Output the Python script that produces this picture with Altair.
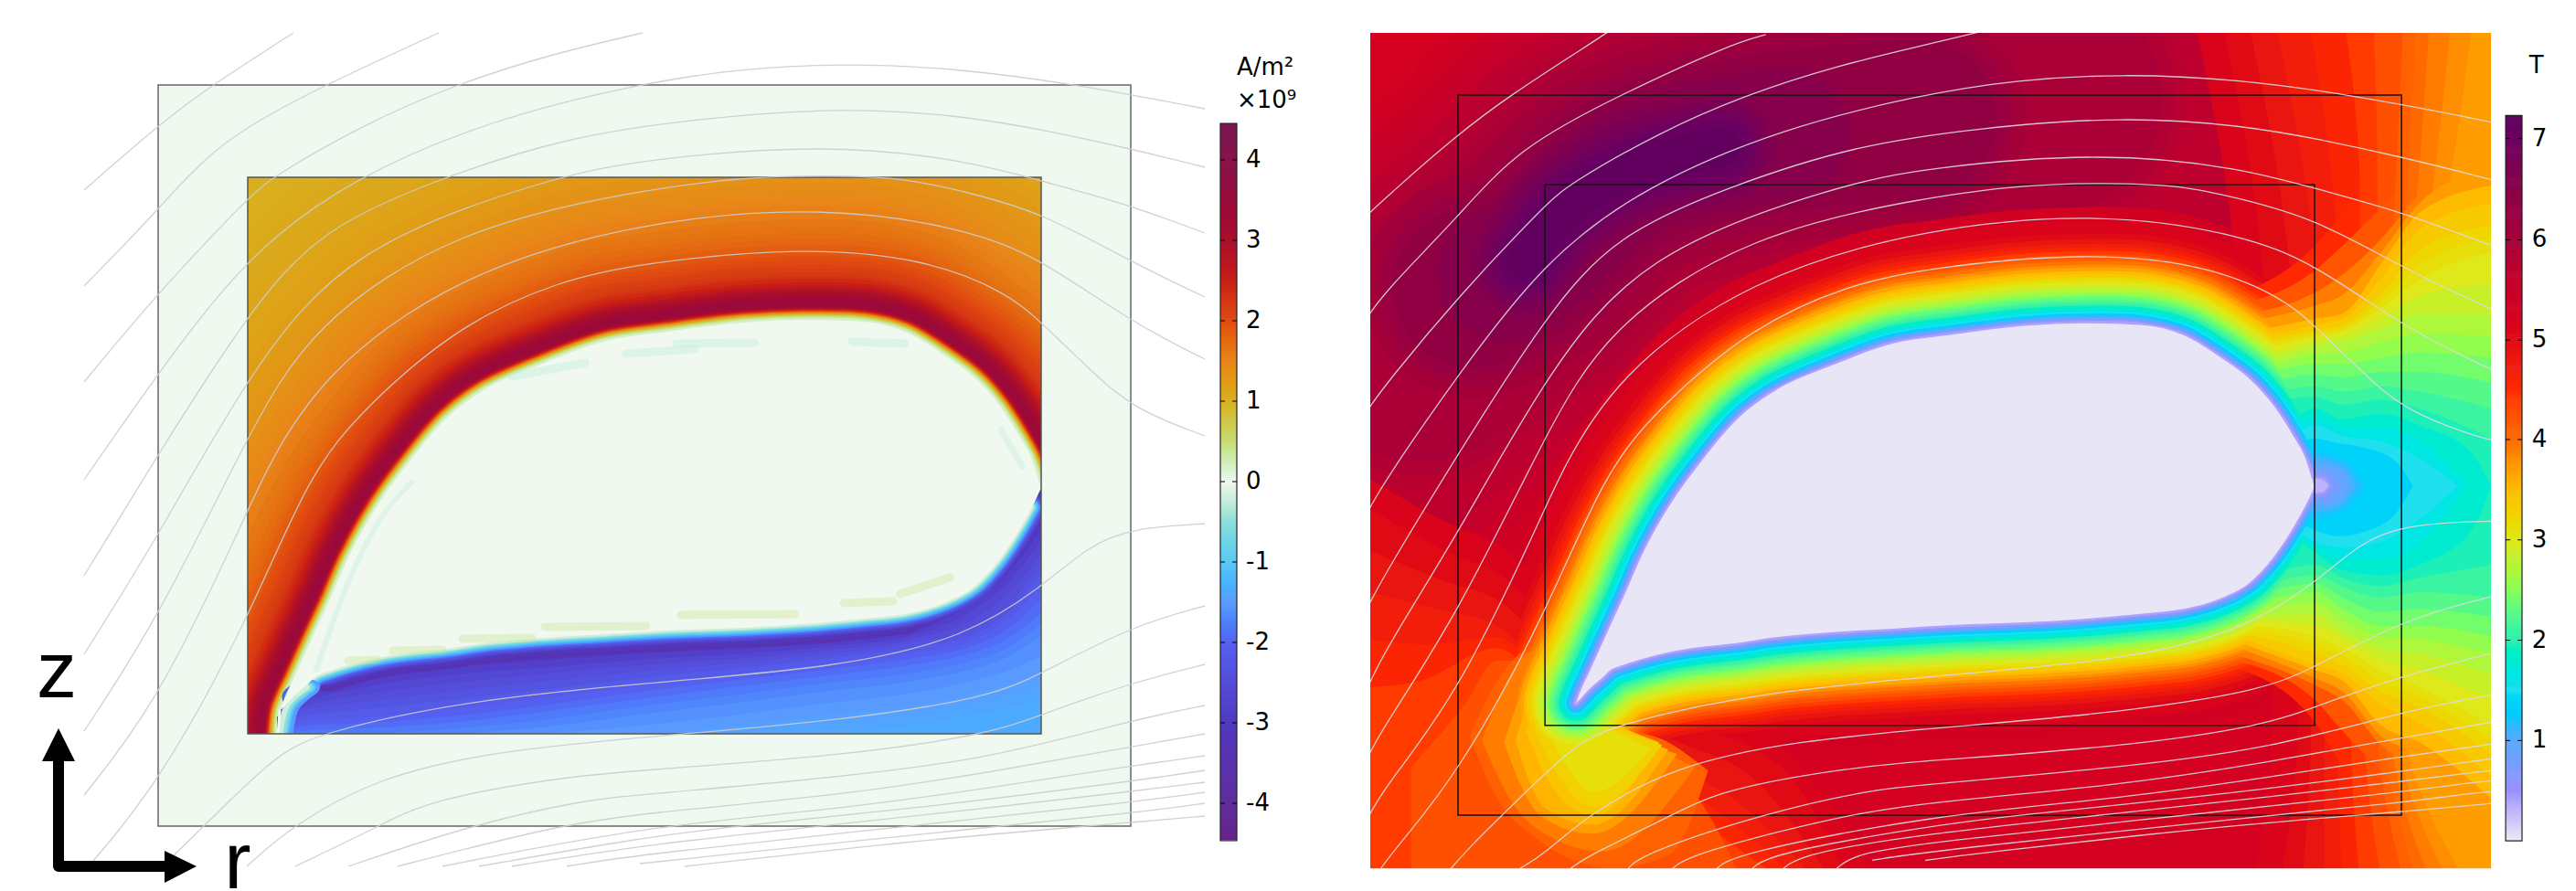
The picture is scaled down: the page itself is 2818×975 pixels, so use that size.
import altair as alt
import pandas as pd

# ---- shared geometry (r, z) ----
blob_r = [306, 312, 320, 335, 346, 359, 381, 413, 444, 489, 529, 596, 663, 730, 812, 879, 945, 990, 1035, 1066, 1093, 1115, 1129, 1138]
blob_top = [778, 762, 745, 712, 688, 660, 610, 553, 510, 457, 427, 397, 373, 363, 353, 350, 352, 363, 390, 413, 443, 477, 503, 532]
blob_bot = [778, 772, 763, 750, 740, 735, 728, 720, 715, 710, 704, 698, 694, 690, 687, 683, 677, 672, 659, 642, 613, 580, 555, 536]

outer_box = (173, 1237, 93, 904)
inner_box = (271, 1139, 194, 803)

streamlines = [
    ([73, 92, 173, 232, 321, 345], [226, 208, 137, 93, 36, 20]),
    ([73, 92, 173, 240, 355, 480, 520], [340, 313, 230, 153, 93, 36, 25]),
    ([73, 92, 173, 271, 297, 400, 497, 600, 703, 760], [445, 418, 320, 217, 194, 135, 93, 60, 36, 22]),
    ([73, 92, 173, 271, 386, 540, 694, 800, 923, 1050, 1182, 1318, 1345], [559, 525, 408, 278, 194, 130, 93, 76, 69, 75, 93, 119, 125]),
    ([73, 92, 173, 271, 350, 484, 620, 760, 923, 1057, 1146, 1238, 1318, 1345], [666, 630, 497, 343, 250, 194, 150, 130, 117, 127, 143, 163, 183, 190]),
    ([73, 92, 173, 271, 380, 605, 700, 901, 1057, 1146, 1238, 1318, 1345], [756, 716, 587, 410, 270, 194, 175, 157, 175, 200, 225, 255, 265]),
    ([73, 92, 173, 271, 340, 500, 700, 812, 901, 986, 1057, 1139, 1238, 1318, 1345], [835, 800, 677, 477, 355, 250, 208, 194, 192, 194, 210, 232, 287, 325, 337]),
    ([73, 92, 173, 271, 288, 350, 500, 700, 901, 1057, 1139, 1238, 1318, 1345], [904, 870, 768, 560, 520, 410, 300, 242, 225, 250, 283, 353, 393, 405]),
    ([86, 102, 173, 271, 337, 399, 506, 613, 700, 879, 1012, 1102, 1139, 1191, 1238, 1318, 1345], [964, 942, 858, 680, 520, 445, 353, 307, 288, 270, 283, 320, 353, 403, 447, 477, 483]),
    ([165, 190, 223, 301, 346, 506, 700, 923, 1057, 1139, 1191, 1238, 1318, 1345], [964, 936, 904, 827, 803, 767, 748, 730, 697, 643, 597, 578, 573, 573]),
    ([243, 270, 319, 413, 551, 749, 923, 1084, 1139, 1238, 1318, 1345], [964, 948, 904, 850, 820, 803, 788, 763, 737, 685, 663, 656]),
    ([300, 323, 415, 470, 618, 700, 923, 1084, 1139, 1238, 1318, 1345], [964, 948, 904, 875, 850, 843, 827, 803, 782, 747, 727, 720]),
    ([365, 381, 511, 640, 700, 923, 1084, 1238, 1318, 1345], [964, 948, 904, 875, 870, 850, 830, 788, 772, 768]),
    ([415, 435, 607, 700, 923, 1084, 1238, 1318, 1345], [964, 948, 904, 890, 870, 845, 817, 803, 798]),
    ([465, 484, 707, 923, 1084, 1238, 1318, 1345], [964, 948, 904, 885, 862, 838, 827, 823]),
    ([505, 524, 700, 803, 1000, 1238, 1318, 1345], [964, 948, 917, 904, 885, 855, 843, 840]),
    ([540, 560, 700, 899, 1100, 1238, 1318, 1345], [964, 948, 925, 904, 882, 866, 856, 853]),
    ([600, 620, 700, 995, 1238, 1318, 1345], [964, 948, 935, 904, 878, 867, 865]),
    ([640, 700, 1091, 1238, 1318, 1345], [955, 945, 904, 890, 879, 877]),
    ([700, 749, 1000, 1189, 1238, 1318, 1345], [955, 948, 920, 904, 900, 893, 890]),
]

# ---- left panel values (current density) ----
j_stops = [-4.45, -4, -3, -2, -1.5, -1, -0.5, 0, 0.5, 1, 1.5, 2, 2.5, 3, 4, 4.45]
j_colors = ["#66228a", "#5e2e9c", "#5038c0", "#5560f0", "#5a9cff", "#5cc8f4", "#8adfdc", "#f0f8f0",
            "#c8dc70", "#d8b020", "#e8851a", "#e04a10", "#c81e14", "#a8102a", "#861448", "#7a1550"]
j_ticks = ["-4", "-3", "-2", "-1", "0", "1", "2", "3", "4"]
j_tick_z = [879, 791, 703, 615, 527, 439, 351, 263, 175]
# (value, half width of band around the upper boundary)
j_upper = [(1.05, 300), (1.08, 282), (1.1, 265), (1.12, 250), (1.15, 235), (1.18, 220), (1.22, 205), (1.26, 192),
           (1.3, 180), (1.33, 170), (1.37, 160), (1.41, 150), (1.45, 140), (1.49, 132), (1.53, 125), (1.57, 117),
           (1.62, 110), (1.67, 102), (1.72, 95), (1.78, 88), (1.85, 82), (1.9, 76), (1.97, 70), (2.03, 65),
           (2.1, 60), (2.15, 56), (2.2, 52), (2.3, 48), (2.4, 45), (2.5, 41), (2.65, 38), (2.8, 35), (2.95, 32),
           (3.1, 29.5), (3.2, 27), (3.3, 25), (3.4, 23), (3.45, 21.5), (3.5, 20), (3.5, 18.5), (3.4, 17),
           (3.3, 15.5), (3.1, 14), (2.85, 13), (2.6, 12), (2.3, 11), (2.0, 10), (1.65, 9), (1.3, 8), (1.05, 7),
           (0.8, 6), (0.6, 5), (0.4, 4), (0.2, 2.5)]
j_low_r = [303, 330, 400, 500, 600, 700, 800, 900, 1000, 1060, 1100, 1140]
j_low = [(-3.1, [785, 752, 730, 715, 707, 702, 699, 694, 680, 650, 618, 565]),
         (-3.0, [790, 760, 738, 722, 714, 708, 705, 700, 685, 655, 622, 570]),
         (-2.8, [792, 765, 745, 730, 722, 715, 710, 704, 690, 662, 630, 578]),
         (-2.6, [795, 770, 752, 738, 730, 722, 716, 708, 695, 670, 640, 590]),
         (-2.45, [797, 774, 760, 747, 737, 728, 721, 712, 699, 680, 652, 605]),
         (-2.3, [800, 778, 768, 756, 745, 735, 726, 716, 703, 690, 665, 615]),
         (-2.15, [804, 784, 776, 765, 754, 742, 732, 721, 708, 696, 672, 627]),
         (-2.0, [808, 790, 785, 775, 763, 750, 738, 727, 714, 702, 680, 640]),
         (-1.9, [808, 795, 791, 783, 771, 757, 745, 733, 720, 708, 690, 655]),
         (-1.8, [808, 800, 797, 790, 778, 765, 752, 740, 727, 715, 700, 670]),
         (-1.7, [808, 804, 803, 797, 787, 773, 761, 748, 736, 724, 710, 682]),
         (-1.6, [808, 808, 808, 803, 795, 782, 770, 757, 745, 733, 720, 695]),
         (-1.52, [808, 808, 808, 806, 802, 794, 783, 770, 758, 746, 735, 717]),
         (-1.45, [808, 808, 808, 808, 808, 805, 795, 783, 772, 760, 750, 740]),
         (-1.4, [808, 808, 808, 808, 808, 808, 802, 793, 783, 772, 763, 752]),
         (-1.35, [808, 808, 808, 808, 808, 808, 808, 803, 793, 783, 775, 765])]
j_lower_thin = [(-3.4, 22), (-3.2, 18), (-3.0, 16), (-2.75, 14.5), (-2.5, 13), (-2.2, 11.5), (-1.9, 10), (-1.6, 8.7),
                (-1.3, 7.5), (-1.05, 6.2), (-0.8, 5), (-0.6, 4), (-0.4, 3), (-0.2, 2)]
j_tip = [(-1.5, 8, 312), (-1.1, 6, 310), (-0.8, 5, 309), (-0.5, 4, 308), (-0.2, 3, 306)]
j_tip_z = [808, 772, 752]
j_streaks = [(0.4, 9, [381, 413], [723, 722]), (0.4, 9, [430, 484], [712, 711]), (0.4, 9, [506, 582], [699, 698]),
             (0.4, 9, [596, 707], [686, 685]), (0.4, 9, [745, 870], [673, 672]), (0.4, 9, [923, 977], [660, 658]),
             (0.4, 9, [985, 1039], [650, 632]),
             (-0.3, 9, [685, 760], [387, 382]), (-0.3, 9, [560, 640], [412, 397]), (-0.3, 9, [740, 825], [376, 375]),
             (-0.3, 9, [932, 990], [374, 376]), (-0.25, 6, [346, 381, 413, 450], [733, 637, 573, 528]),
             (-0.25, 7, [1095, 1118], [470, 510])]

# ---- right panel values (flux density) ----
b_stops = [0, 0.5, 1, 1.5, 2, 2.5, 3, 3.5, 4, 4.5, 5, 5.5, 6, 6.5, 7, 7.23]
b_colors = ["#ebe9f5", "#9a90ff", "#55aaff", "#20e0f0", "#30f0b0", "#88ff55", "#dfe81a", "#ffbb00",
            "#ff6a00", "#ff2800", "#e00a14", "#c80028", "#a60038", "#880048", "#6a0060", "#5e0060"]
b_ticks = ["1", "2", "3", "4", "5", "6", "7"]
b_tick_z = [820, 707, 594, 481, 369, 256, 142]
ridge_a = ([80, 255, 369, 600, 850, 1000], [420, 276, 176, 120, 90, 80])
ridge_b = ([130, 255, 369, 600, 830], [370, 276, 176, 120, 95])
ridge_c = ([190, 255, 369, 500, 690], [310, 276, 176, 140, 120])
ridge_d = ([225, 255, 369, 540], [295, 276, 176, 138])
ridge_e = ([250, 290, 369, 470], [280, 225, 176, 152])
b_ridge = [(5.35, 470, ridge_a), (5.45, 430, ridge_a), (5.55, 390, ridge_a), (5.65, 350, ridge_a), (5.75, 320, ridge_b),
           (5.85, 295, ridge_b), (5.95, 265, ridge_b), (6.05, 240, ridge_c), (6.15, 215, ridge_c), (6.25, 195, ridge_c),
           (6.35, 175, ridge_c), (6.45, 155, ridge_d), (6.55, 137, ridge_d), (6.65, 120, ridge_e), (6.75, 105, ridge_e),
           (6.85, 90, ridge_e), (6.95, 75, ridge_e), (7.05, 60, ridge_e), (7.15, 42, ridge_e)]
b_band = [(5.3, 127), (5.15, 112), (5.0, 98), (4.85, 92), (4.7, 87), (4.55, 83), (4.4, 79), (4.25, 75), (4.1, 71),
          (3.95, 68), (3.8, 64), (3.65, 61), (3.5, 57), (3.35, 54), (3.2, 50), (3.1, 48), (3.0, 45), (2.9, 42),
          (2.8, 39), (2.7, 37), (2.6, 34), (2.5, 32), (2.4, 30), (2.3, 28), (2.2, 25), (2.1, 23), (2.0, 21),
          (1.9, 19), (1.8, 17), (1.7, 15.5), (1.6, 14), (1.5, 12.5), (1.4, 11), (1.3, 10), (1.2, 9), (1.1, 8), (1.0, 7),
          (0.8, 5.5), (0.6, 4), (0.4, 2.5)]
b_side_z = [-10, 200, 400, 600, 800, 980]
b_side = [(5.15, [1000, 1040, 1060, 1075, 1090, 1070]), (5.0, [1030, 1070, 1090, 1100, 1120, 1100]),
          (4.85, [1060, 1100, 1120, 1125, 1135, 1125]), (4.7, [1090, 1130, 1150, 1150, 1150, 1150]),
          (4.55, [1130, 1160, 1170, 1170, 1165, 1170]), (4.4, [1170, 1190, 1190, 1190, 1180, 1190]),
          (4.25, [1205, 1210, 1205, 1200, 1195, 1215]), (4.1, [1240, 1230, 1220, 1210, 1210, 1240]),
          (4.0, [1255, 1243, 1228, 1218, 1218, 1255]), (3.9, [1270, 1255, 1235, 1225, 1225, 1270]),
          (3.8, [1295, 1272, 1243, 1230, 1232, 1290]), (3.7, [1320, 1290, 1250, 1235, 1240, 1310])]
# the blob side start of each contour sits on the band round the blob
b_hot = [(4.5, [1040, 1140, 1171, 1214], [322, 262, 225, 180], [735, 800, 850, 900]),
         (4.2, [1040, 1140, 1171, 1214, 1260], [332, 290, 262, 220, 170], [728, 775, 810, 855, 900]),
         (3.9, [1045, 1140, 1171, 1214, 1257, 1338], [342, 315, 295, 255, 205, 160], [722, 758, 775, 825, 850, 920]),
         (3.7, [1050, 1140, 1171, 1214, 1257, 1338], [350, 330, 318, 270, 215, 175], [715, 750, 765, 815, 835, 900]),
         (3.5, [1055, 1140, 1171, 1214, 1257, 1338], [362, 345, 339, 283, 226, 195], [710, 741, 753, 803, 822, 885]),
         (3.35, [1058, 1140, 1171, 1214, 1257, 1338], [368, 352, 345, 300, 245, 215], [705, 735, 745, 780, 800, 860]),
         (3.2, [1060, 1140, 1171, 1214, 1257, 1338], [372, 358, 352, 317, 268, 240], [700, 722, 735, 765, 782, 835]),
         (3.1, [1062, 1140, 1171, 1214, 1257, 1338], [378, 361, 355, 325, 285, 255], [695, 712, 725, 753, 771, 818]),
         (3.0, [1065, 1140, 1171, 1214, 1257, 1338], [385, 364, 358, 333, 301, 270], [690, 703, 716, 741, 760, 803]),
         (2.85, [1068, 1140, 1171, 1214, 1257, 1338], [392, 370, 364, 345, 320, 305], [685, 690, 705, 728, 741, 773]),
         (2.7, [1070, 1140, 1171, 1214, 1257, 1338], [398, 376, 370, 357, 340, 340], [680, 678, 697, 716, 722, 745]),
         (2.55, [1073, 1140, 1171, 1214, 1257, 1338], [405, 385, 383, 372, 362, 365], [672, 665, 684, 703, 706, 722]),
         (2.4, [1075, 1140, 1171, 1214, 1257, 1338], [410, 396, 396, 389, 383, 389], [665, 653, 672, 691, 691, 703]),
         (2.25, [1078, 1140, 1171, 1214, 1257, 1338], [420, 408, 411, 405, 405, 417], [655, 643, 659, 675, 672, 681]),
         (2.1, [1082, 1140, 1171, 1214, 1257, 1338], [430, 421, 427, 421, 427, 446], [645, 634, 647, 659, 653, 659]),
         (1.95, [1085, 1140, 1171, 1214, 1257, 1338], [440, 433, 442, 436, 446, 480], [635, 622, 637, 646, 637, 622]),
         (1.8, [1090, 1140, 1171, 1214, 1257, 1315, 1338], [495, 446, 458, 452, 465, 495, 533], [565, 609, 628, 634, 622, 585, 533]),
         (1.65, [1090, 1140, 1171, 1214, 1257, 1310], [497, 456, 467, 467, 483, 533], [563, 602, 615, 615, 597, 533]),
         (1.5, [1090, 1140, 1171, 1214, 1257, 1300], [500, 465, 477, 483, 502, 533], [560, 596, 603, 596, 571, 533]),
         (1.35, [1090, 1140, 1165, 1195, 1230, 1250], [505, 480, 485, 490, 505, 533], [555, 583, 590, 585, 565, 533]),
         (1.2, [1090, 1140, 1160, 1180, 1196], [510, 495, 500, 510, 533], [550, 570, 565, 555, 533]),
         (1.05, [1090, 1140, 1158, 1175, 1187], [515, 502, 505, 514, 533], [548, 562, 560, 550, 533]),
         (0.9, [1090, 1140, 1155, 1172, 1178], [520, 510, 510, 518, 533], [545, 555, 555, 545, 533]),
         (0.75, [1100, 1140, 1152, 1165, 1170], [525, 515, 515, 525, 533], [540, 550, 550, 540, 533]),
         (0.6, [1110, 1140, 1150, 1160], [528, 520, 520, 533], [538, 546, 546, 533]),
         (0.45, [1120, 1140, 1148, 1157], [530, 523, 523, 533], [536, 543, 543, 533]),
         (0.3, [1125, 1140, 1148, 1155], [530, 525, 526, 533], [536, 541, 540, 533])]
b_spot = [(5.15, [73, 151, 238, 282, 412, 542, 640], [525, 570, 615, 670, 765, 830, 964], [980] * 7),
          (5.0, [73, 151, 238, 282, 412, 542, 607], [559, 603, 647, 697, 791, 854, 964], [980] * 7),
          (4.85, [73, 151, 228, 270, 390, 520, 585], [606, 638, 669, 712, 806, 876, 964], [980] * 7),
          (4.7, [73, 151, 217, 260, 368, 499, 564], [653, 672, 691, 728, 822, 898, 964], [980] * 7),
          (4.55, [73, 140, 217, 260, 345, 477, 542], [706, 712, 703, 737, 822, 908, 964], [980] * 7),
          (4.4, [73, 130, 217, 260, 325, 455, 520], [760, 753, 716, 747, 822, 917, 964], [980] * 7),
          (4.25, [120, 180, 217, 260, 337, 440, 490], [850, 780, 730, 730, 815, 880, 970], [970] * 7),
          (4.1, [186, 217, 260, 347, 412, 455], [816, 753, 716, 800, 823, 854], [816, 885, 929, 964, 948, 854]),
          (3.9, [200, 228, 260, 336, 440], [820, 753, 718, 790, 850], [820, 880, 918, 945, 850]),
          (3.7, [225, 245, 265, 325, 420], [822, 765, 730, 790, 835], [822, 873, 904, 925, 835]),
          (3.55, [238, 255, 270, 325, 410], [820, 765, 745, 790, 830], [820, 870, 895, 915, 830]),
          (3.4, [250, 275, 325, 400], [810, 760, 790, 822], [810, 866, 905, 822]),
          (3.25, [260, 285, 325, 403], [810, 775, 795, 825], [810, 858, 895, 825]),
          (3.1, [275, 295, 325, 390], [810, 790, 800, 829], [810, 848, 878, 829])]

FONT = "DejaVu Sans"


def frame(r, z, **extra):
    d = pd.DataFrame({"r": r, "z": z})
    d["i"] = range(len(d))
    for k, v in extra.items():
        d[k] = v
    return d


def panel(xs, ys, cs):
    X = alt.X("r:Q", scale=xs, axis=None)
    Y = alt.Y("z:Q", scale=ys, axis=None, stack=None)
    C = alt.Color("level:Q", scale=cs, legend=None)

    def band(level, half, r, z, interp="catmull-rom", opacity=1):
        return alt.Chart(frame(r, z, level=level)).mark_line(
            strokeWidth=2 * half, strokeJoin="round", strokeCap="round", clip=True, interpolate=interp, opacity=opacity
        ).encode(x=X, y=Y, color=C, order=alt.Order("i:Q"))

    def region(level, r, z, z2):
        return alt.Chart(frame(r, z, z2=z2, level=level)).mark_area(clip=True, interpolate="monotone").encode(
            x=X, y=Y, y2="z2:Q", color=C)

    def box(rows, **mk):
        d = pd.DataFrame(rows, columns=["r", "r2", "z", "z2"])
        return alt.Chart(d).mark_rect(clip=True, **mk).encode(x=X, x2="r2:Q", y=Y, y2="z2:Q")

    def stream(where=None, colour="#cccccc", w=1.3):
        out = []
        for r, z in streamlines:
            c = alt.Chart(frame(r, z))
            if where:
                c = c.transform_filter(where)
            out.append(c.mark_line(color=colour, strokeWidth=w, interpolate="basis", clip=True, opacity=0.9)
                       .encode(x=X, y=Y, order=alt.Order("i:Q")))
        return out

    def ticks(r_a, r_b, zs):
        rows = [(r_a, r_b, v) for v in zs]
        d = pd.DataFrame(rows, columns=["r", "r2", "z"])
        return alt.Chart(d).mark_rule(color="black", strokeWidth=1).encode(x=X, x2="r2:Q", y=Y)

    def label(t, r, z, size=26, weight="normal", font=FONT, align="left", baseline="alphabetic"):
        d = pd.DataFrame({"r": [r] * len(z), "z": z, "t": t})
        return alt.Chart(d).mark_text(fontSize=size, font=font, fontWeight=weight, align=align,
                                      baseline=baseline, color="black").encode(x=X, y=Y, text="t:N")

    def colorbar(r0, r1, z_top, z_bot, level_top, level_bot, step):
        n = int((z_bot - z_top) / step)
        zs = [z_top + k * step for k in range(n)]
        lv = [level_top + (level_bot - level_top) * (k + 0.5) / n for k in range(n)]
        d = pd.DataFrame({"r": r0, "r2": r1, "z": zs, "z2": [min(a + step + 0.6, z_bot) for a in zs], "level": lv})
        return alt.Chart(d).mark_rect().encode(x=X, x2="r2:Q", y=Y, y2="z2:Q", color=C)

    return X, Y, C, band, region, box, stream, ticks, label, colorbar


# ---- left panel ----
lx = alt.Scale(domain=[8, 1480], nice=False, zero=False)
ly = alt.Scale(domain=[958, 8], nice=False, zero=False)
lc = alt.Scale(domain=j_stops, range=j_colors, clamp=True)
X, Y, C, band, region, box, stream, ticks, label, colorbar = panel(lx, ly, lc)

L = []
base = pd.DataFrame({"r": [inner_box[0]], "r2": [inner_box[1]], "z": [inner_box[2]], "z2": [inner_box[3]], "level": [1.02]})
L.append(alt.Chart(base).mark_rect(clip=True).encode(x=X, x2="r2:Q", y=Y, y2="z2:Q", color=C))
for level, half in j_upper:
    lim = 900 if half >= 265 else (1066 if half >= 100 else 1140)
    rr = [303] + [a for a in blob_r if a <= lim]
    zz = [805] + [b for a, b in zip(blob_r, blob_top) if a <= lim]
    L.append(band(level, half, rr, zz))
L.append(region(-3.3, [303] + blob_r + [1140], [805] + blob_bot + [536], [810] * (len(blob_r) + 2)))
for level, zs in j_low:
    L.append(region(level, j_low_r, zs, [810] * len(j_low_r)))
for level, half in j_lower_thin:
    start = 359 if half >= 13 else 320
    stop = 1000 if half >= 16 else 1129
    idx = [k for k, a in enumerate(blob_r) if start <= a <= stop]
    L.append(band(level, half, [blob_r[k] for k in idx], [blob_bot[k] for k in idx]))
for level, half, r in j_tip:
    L.append(band(level, half, [r, r + 8, r + 30], j_tip_z))
L.append(region(0, blob_r, blob_top, blob_bot))
L.append(band(0, 1.5, [304, 306], [805, 778], "linear"))
for level, half, r, z in j_streaks:
    L.append(band(level, half / 2, r, z, "monotone", opacity=0.35))

o0, o1, o2, o3 = outer_box
i0, i1, i2, i3 = inner_box
L.append(box([(0, o0, 0, 980), (o0, 1330, 0, o2), (o0, 1330, o3, 980), (o1, 1330, o2, o3)], color="white"))
L.append(box([(o0, i0, o2, o3), (i1, o1, o2, o3), (i0, i1, o2, i2), (i0, i1, i3, o3)], color="#f0f9f0"))
L.append(box([(o0, o1, o2, o3)], fillOpacity=0, stroke="#666666", strokeWidth=1.5))
L.append(box([(i0, i1, i2, i3)], fillOpacity=0, stroke="#555555", strokeWidth=1.5))
L += stream("datum.r >= 92 && datum.r <= 1318 && datum.z >= 36 && datum.z <= 948")
L.append(colorbar(1335, 1353, 135, 920, 4.45, -4.45, 2))
L.append(box([(1335, 1353, 135, 920)], fillOpacity=0, stroke="#222222", strokeWidth=1.2))
L.append(ticks(1335, 1340, j_tick_z))
L.append(ticks(1348, 1353, j_tick_z))
L.append(label(j_ticks, 1363, j_tick_z, baseline="middle"))
L.append(label(["A/m²"], 1353, [82]))
L.append(label(["×10⁹"], 1353, [118]))
# axes arrows
L.append(alt.Chart(frame([64, 64, 180], [833, 948, 948])).mark_line(
    color="black", strokeWidth=12, strokeJoin="round", strokeCap="butt").encode(x=X, y=Y, order=alt.Order("i:Q")))
L.append(alt.Chart(frame([46, 64, 82], [833, 797, 833], z2=833)).mark_area(color="black").encode(x=X, y=Y, y2="z2:Q"))
L.append(alt.Chart(frame([180, 215], [931, 948], z2=[966, 948])).mark_area(color="black").encode(x=X, y=Y, y2="z2:Q"))
L.append(label(["z"], 62, [763], size=88, font="Liberation Sans", align="center"))
L.append(label(["r"], 260, [972], size=88, font="Liberation Sans", align="center"))
left = alt.layer(*L).properties(width=1472, height=950)

# ---- right panel ----
rx = alt.Scale(domain=[74, 1425.6], nice=False, zero=False)
ry = alt.Scale(domain=[972, -5.8], nice=False, zero=False)
rc = alt.Scale(domain=b_stops, range=b_colors, clamp=True)
X, Y, C, band, region, box, stream, ticks, label, colorbar = panel(rx, ry, rc)

R = []
base = pd.DataFrame({"r": [74], "r2": [1338], "z": [20], "z2": [968], "level": [5.25]})
R.append(alt.Chart(base).mark_rect(clip=True).encode(x=X, x2="r2:Q", y=Y, y2="z2:Q", color=C))
for level, width, (r, z) in b_ridge:
    R.append(band(level, width / 2, r, z))

blob_path_r = blob_r + blob_r[-2::-1]
blob_path_z = blob_top + blob_bot[-2::-1]
shapes = []
for level, half in b_band:
    shapes.append((level, band(level, half, blob_path_r, blob_path_z)))
for level, rs in b_side:
    d = frame(rs, b_side_z, r2=1338, level=level)
    shapes.append((level, alt.Chart(d).mark_area(clip=True, orient="horizontal", interpolate="monotone").encode(
        x=X, x2="r2:Q", y=Y, color=C)))
for level, r, up, lo in b_hot:
    shapes.append((level, region(level, r, up, lo)))
for level, r, up, lo in b_spot:
    shapes.append((level, region(level, r, up, lo)))
shapes.sort(key=lambda s: -s[0])
R += [s[1] for s in shapes]
R.append(region(0.02, blob_r, blob_top, blob_bot))
R.append(box([(o0, o1, o2, o3)], fillOpacity=0, stroke="#111111", strokeWidth=1.5))
R.append(box([(i0, i1, i2, i3)], fillOpacity=0, stroke="#111111", strokeWidth=1.5))
R += stream(None, colour="#dcdcdc", w=1.3)
R.append(box([(1338, 1353, -10, 980), (70, 1353, -10, 23), (70, 1353, 964, 980)], color="white"))
R.append(colorbar(1354.5, 1373, 116, 933, 7.23, 0, 2))
R.append(box([(1354.5, 1373, 116, 933)], fillOpacity=0, stroke="#222222", strokeWidth=1.2))
R.append(ticks(1354.5, 1359.7, b_tick_z))
R.append(ticks(1368, 1373, b_tick_z))
R.append(label(b_ticks, 1384, b_tick_z, baseline="middle"))
R.append(label(["T"], 1381, [68]))
right = alt.layer(*R).properties(width=1311, height=950)

chart = alt.hconcat(left, right, spacing=19).resolve_scale(
    color="independent", x="independent", y="independent"
).properties(padding=0, background="white").configure_view(stroke=None)

chart.save("out.html", embed_options={"renderer": "svg", "actions": False})
